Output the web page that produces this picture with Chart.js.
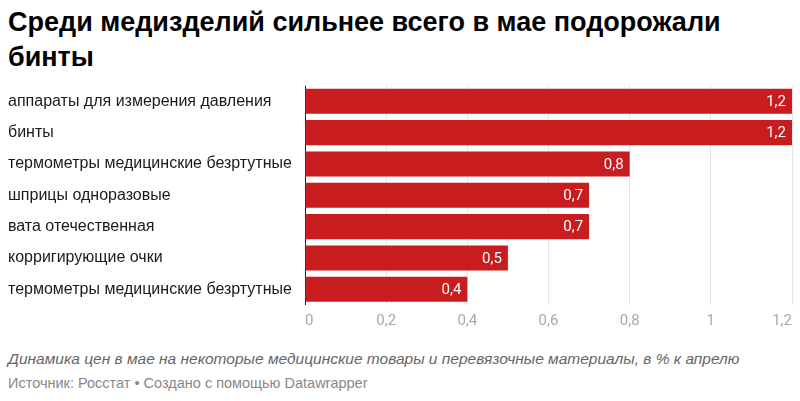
<!DOCTYPE html>
<html>
<head>
<meta charset="utf-8">
<script src="https://cdn.jsdelivr.net/npm/chart.js@4.4.0/dist/chart.umd.min.js"></script>
<style>
  html, body { margin: 0; padding: 0; background: #fff; }
  body { width: 800px; height: 401px; position: relative; overflow: hidden; }
  .title {
    position: absolute; left: 8px; top: 5px; width: 790px;
    font-family: "Liberation Sans", Arial, sans-serif; font-weight: 700;
    font-size: 27px; line-height: 35px; color: #000;
  }
  .chart-box { position: absolute; left: 0; top: 76px; width: 800px; height: 254px; }
  .caption {
    position: absolute; left: 8px; top: 350px;
    font-family: "Liberation Sans", Arial, sans-serif; font-style: italic; font-size: 15.5px; color: #666;
  }
  .source {
    position: absolute; left: 8px; top: 375px;
    font-family: "Liberation Sans", Arial, sans-serif; font-size: 14.5px; color: #888;
  }
</style>
</head>
<body>
<div class="title">Среди медизделий сильнее всего в мае подорожали<br>бинты</div>
<div class="chart-box"><canvas id="chartMed"></canvas></div>
<div class="caption">Динамика цен в мае на некоторые медицинские товары и перевязочные материалы, в % к апрелю</div>
<div class="source">Источник: Росстат • Создано с помощью Datawrapper</div>
<script>
const categories = [
    'аппараты для измерения давления',
    'бинты',
    'термометры медицинские безртутные',
    'шприцы одноразовые',
    'вата отечественная',
    'корригирующие очки',
    'термометры медицинские безртутные'
];
const values = [1.2, 1.2, 0.8, 0.7, 0.7, 0.5, 0.4];
const xTicks = [0, 0.2, 0.4, 0.6, 0.8, 1, 1.2];

const fmt = v => String(v).replace('.', ',');

// white value labels at the end of each bar
const valueLabels = {
    id: 'valueLabels',
    afterDatasetsDraw(chart) {
        const ctx = chart.ctx;
        const meta = chart.getDatasetMeta(0);
        ctx.save();
        ctx.font = '15px Roboto';
        ctx.fillStyle = '#fff';
        ctx.textAlign = 'right';
        ctx.textBaseline = 'middle';
        meta.data.forEach((bar, i) => {
            ctx.fillText(fmt(values[i]), bar.x - 6, bar.y + 1);
        });
        ctx.restore();
    }
};

new Chart(document.getElementById('chartMed'), {
    type: 'bar',
    data: {
        labels: categories,
        datasets: [{
            data: values,
            backgroundColor: '#c81c1e',
            borderWidth: 0,
            categoryPercentage: 1,
            barPercentage: 0.8
        }]
    },
    options: {
        indexAxis: 'y',
        responsive: true,
        maintainAspectRatio: false,
        animation: false,
        layout: { padding: { top: 5, right: 8, left: 8, bottom: 0 } },
        plugins: {
            legend: { display: false },
            tooltip: { enabled: false }
        },
        scales: {
            x: {
                min: 0,
                max: 1.2,
                afterBuildTicks: scale => { scale.ticks = xTicks.map(v => ({ value: v })); },
                afterFit: scale => { scale.height = 25; },
                ticks: {
                    color: '#a8a8a8',
                    font: { family: 'Roboto', size: 15 },
                    padding: 7,
                    align: 'inner',
                    callback: v => fmt(v)
                },
                grid: {
                    drawTicks: false,
                    color: ctx => ctx.tick && ctx.tick.value === 0 ? '#222' : '#e6e6e6'
                },
                border: { display: false }
            },
            y: {
                afterFit: scale => { scale.width = 297; },
                ticks: {
                    crossAlign: 'far',
                    color: '#1a1a1a',
                    font: { family: 'Liberation Sans', size: 16 },
                    padding: 0
                },
                grid: { display: false },
                border: { display: false }
            }
        }
    },
    plugins: [valueLabels]
});
</script>
</body>
</html>
